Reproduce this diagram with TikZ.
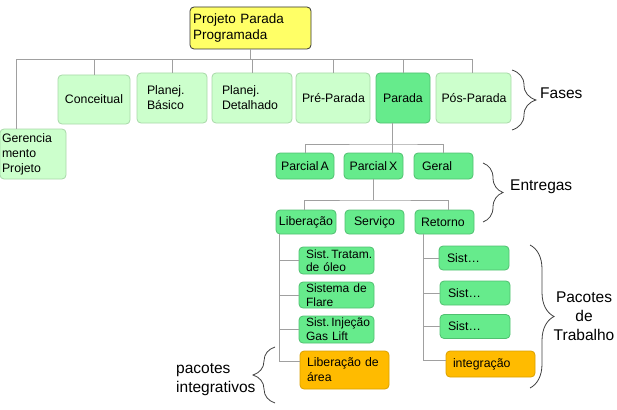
\documentclass[tikz,border=0pt]{standalone}
\usepackage{fontspec}
\setmainfont{Liberation Sans}
\usepackage{tikz}
\usetikzlibrary{decorations.pathreplacing}

\definecolor{fasefill}{HTML}{CCFFCC}
\definecolor{faseline}{HTML}{A8D8A8}
\definecolor{entfill}{HTML}{66EB8C}
\definecolor{entline}{HTML}{50C070}
\definecolor{intfill}{HTML}{FFBB00}
\definecolor{intline}{HTML}{D9A000}
\definecolor{projfill}{HTML}{FFFF66}
\definecolor{connline}{HTML}{A0A0A0}

\begin{document}
\begin{tikzpicture}[x=1pt,y=-1pt]
\tikzstyle{box} = [rounded corners=4pt, inner sep=0pt, line width=0.8pt, align=left,
                   font=\fontsize{12.3}{15}\selectfont]
\tikzstyle{fase} = [box, draw=faseline, fill=fasefill]
\tikzstyle{ent} = [box, draw=entline, fill=entfill]
\tikzstyle{integ} = [box, draw=intline, fill=intfill]
\tikzstyle{conn} = [draw=connline, line width=0.8pt]
\tikzstyle{chave} = [draw=black!75, line width=0.8pt, decorate]
\tikzstyle{rotulo} = [inner sep=0pt, align=left, font=\fontsize{15.5}{19}\selectfont]
\useasboundingbox (0,0) rectangle (617,409);

% raiz e fases
\node[box, draw=black!80, fill=projfill, minimum width=121pt, minimum height=42pt,
      text width=115pt, font=\fontsize{13.5}{16}\selectfont] (proj) at (250.5,28) {Projeto Parada\\Programada};
\node[fase, minimum width=72pt, minimum height=49pt] (conc) at (94,99.5) {Conceitual};
\node[fase, minimum width=70pt, minimum height=50pt, text width=50pt] (bas) at (172,98) {Planej.\\Básico};
\node[fase, minimum width=80pt, minimum height=50pt, text width=60pt] (det) at (252,98) {Planej.\\Detalhado};
\node[fase, minimum width=74pt, minimum height=50pt, text width=62pt] (pre) at (333,98) {\mbox{Pré-Parada}};
\node[ent, minimum width=54pt, minimum height=50pt, align=center] (par) at (403,98) {Parada};
\node[fase, minimum width=75pt, minimum height=50pt, text width=64pt] (pos) at (473.5,98) {\mbox{Pós-Parada}};
\node[fase, minimum width=66pt, minimum height=50pt, text width=62pt] (ger) at (33,154) {Gerencia\\mento\\Projeto};

% entregas
\node[ent, minimum width=58pt, minimum height=26pt, align=center] (parA) at (305,166) {Parcial\,A};
\node[ent, minimum width=59pt, minimum height=26pt, align=center] (parX) at (373.5,166) {Parcial\,X};
\node[ent, minimum width=59pt, minimum height=26pt, text width=43pt] (geral) at (443.5,166) {Geral};
\node[ent, minimum width=60pt, minimum height=24pt, align=center] (lib) at (306,222) {Liberação};
\node[ent, minimum width=59pt, minimum height=24pt, align=center] (serv) at (374.5,222) {Serviço};
\node[ent, minimum width=59pt, minimum height=24pt, text width=47pt] (ret) at (444.5,222) {Retorno};

% pacotes
\node[ent, minimum width=75pt, minimum height=27pt, text width=61pt,
      font=\fontsize{12}{13}\selectfont] (st1) at (336.5,260.5) {Sist.\,Tratam.\\de óleo};
\node[ent, minimum width=75pt, minimum height=26pt, text width=61pt,
      font=\fontsize{12}{14}\selectfont] (st2) at (336.5,295) {Sistema de\\Flare};
\node[ent, minimum width=75pt, minimum height=27pt, text width=61pt,
      font=\fontsize{12}{14}\selectfont] (st3) at (336.5,329.5) {Sist.\,Injeção\\Gas Lift};
\node[integ, minimum width=89pt, minimum height=38pt, text width=75pt] (libA) at (344.5,370) {Liberação de\\área};
\node[ent, minimum width=70pt, minimum height=24pt, text width=54pt] (s1) at (474,258) {Sist…};
\node[ent, minimum width=70pt, minimum height=24pt, text width=54pt] (s2) at (475,293) {Sist…};
\node[ent, minimum width=70pt, minimum height=24pt, text width=54pt] (s3) at (475,326.5) {Sist…};
\node[integ, minimum width=89pt, minimum height=26pt, text width=75pt] (int) at (490.5,364) {integração};

% ligacoes
\coordinate (busA) at (16,59);
\coordinate (busB) at (392.5,144);
\coordinate (busC) at (374,200);
\coordinate (libB) at (279,361);
\coordinate (retB) at (423,360);
\draw[conn] (ger.north -| busA) -- (busA) -| ([xshift=-1.5pt]pos.north);
\draw[conn] (proj.south) -- (proj.south |- busA);
\foreach \n in {conc,bas,det,pre,par}
  \draw[conn] (\n.north) -- (\n.north |- busA);
\draw[conn] (par.south -| busB) -- (parX.north -| busB);
\draw[conn] (parA.north) |- (busB) -| (geral.north);
\draw[conn] (parX.south) -- (parX.south |- busC);
\draw[conn] ([xshift=-2pt]lib.north) |- (busC) -| ([xshift=4pt]ret.north);
\draw[conn] (lib.south -| libB) -- (libB) -- (libB -| libA.west);
\foreach \n in {st1,st2,st3}
  \draw[conn] (\n.west) -- (\n.west -| libB);
\draw[conn] (ret.south -| retB) -- (retB) -- (retB -| int.west);
\foreach \n in {s1,s2,s3}
  \draw[conn] (\n.west) -- (\n.west -| retB);

% chaves
\draw[chave, decoration={brace, amplitude=24pt}] (512,70) -- (512,130);
\node[rotulo, anchor=west] (fases) at (540,93) {Fases};
\draw[chave, decoration={brace, amplitude=20pt}] (483,163) -- (483,222);
\node[rotulo, anchor=west] (entr) at (510,187) {Entregas};
\draw[chave, decoration={brace, amplitude=24pt}] (530,245) -- (530,388);
\node[rotulo, align=center] (trab) at (584,316) {Pacotes\\de\\Trabalho};
\draw[chave, decoration={brace, amplitude=22pt}] (275,403) -- (275,347);
\node[rotulo, anchor=west] (pint) at (176,380) {pacotes\\integrativos};
\end{tikzpicture}
\end{document}
